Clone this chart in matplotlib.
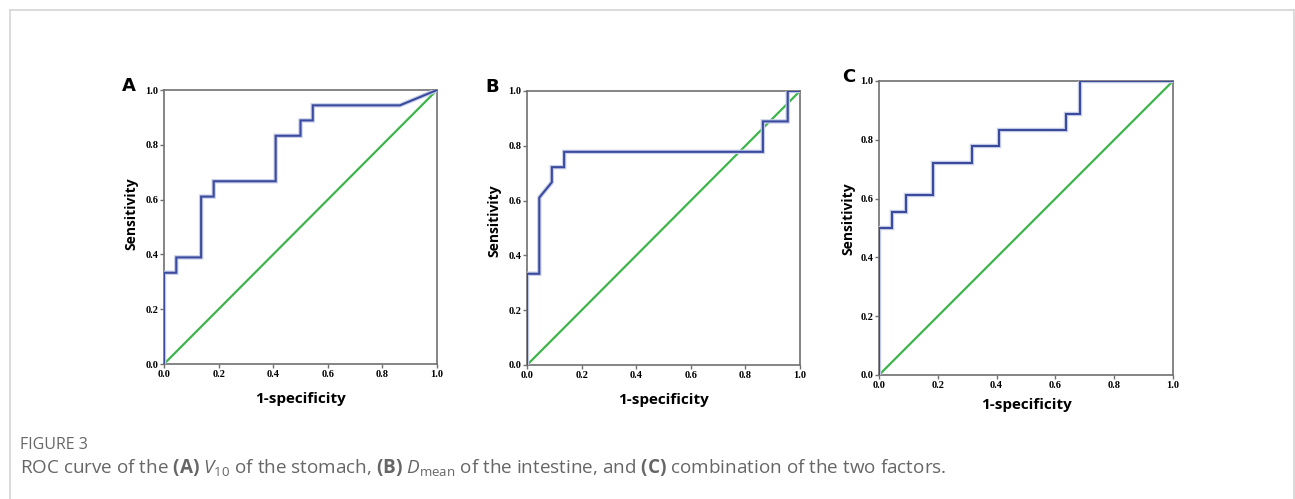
import matplotlib
matplotlib.use("Agg")
import matplotlib.pyplot as plt
from matplotlib.lines import Line2D

# ROC curves: 1-specificity (x) and sensitivity (y)
fpr_a = [0, 0, 0.045, 0.045, 0.136, 0.136, 0.182, 0.182, 0.409, 0.409, 0.5, 0.5, 0.545, 0.545, 0.864, 1.0]
tpr_a = [0, 0.333, 0.333, 0.389, 0.389, 0.611, 0.611, 0.667, 0.667, 0.833, 0.833, 0.889, 0.889, 0.944, 0.944, 1.0]

fpr_b = [0, 0, 0.045, 0.045, 0.091, 0.091, 0.136, 0.136, 0.864, 0.864, 0.955, 0.955, 1.0]
tpr_b = [0, 0.333, 0.333, 0.611, 0.667, 0.722, 0.722, 0.778, 0.778, 0.889, 0.889, 1.0, 1.0]

fpr_c = [0, 0, 0.045, 0.045, 0.091, 0.091, 0.182, 0.182, 0.318, 0.318, 0.409, 0.409, 0.636, 0.636, 0.682, 0.682, 1.0]
tpr_c = [0, 0.5, 0.5, 0.556, 0.556, 0.611, 0.611, 0.722, 0.722, 0.778, 0.778, 0.833, 0.833, 0.889, 0.889, 1.0, 1.0]

ticks = [0.0, 0.2, 0.4, 0.6, 0.8, 1.0]
tick_labels = ["0.0", "0.2", "0.4", "0.6", "0.8", "1.0"]

W, H = 1295, 499
fig = plt.figure(figsize=(W / 100, H / 100), dpi=100)

plt.rcParams['mathtext.fontset'] = 'custom'
plt.rcParams['mathtext.rm'] = 'Open Sans'
plt.rcParams['mathtext.it'] = 'Open Sans:italic'
plt.rcParams['mathtext.bf'] = 'Open Sans:bold'

# axes boxes in pixels: left, right, top, bottom
boxes = [(164, 437, 90, 364), (527, 800, 91, 365), (879, 1173, 81, 375)]
curves = [(fpr_a, tpr_a), (fpr_b, tpr_b), (fpr_c, tpr_c)]
letters = ["A", "B", "C"]
ylab_pos = [(-0.095, 0.55), (-0.095, 0.525), (-0.08, 0.53)]
xlab_pad = [10, 10, 6]
letter_dx = [42, 42, 37]

spine_col = "#707070"
for (l, r, t, b), (fx, ty), letter, yp, xp, dx in zip(boxes, curves, letters, ylab_pos, xlab_pad, letter_dx):
    ax = fig.add_axes([l / W, 1 - b / H, (r - l) / W, (b - t) / H])
    ax.plot([0, 1], [0, 1], color="#3db54a", lw=1.6, zorder=2)
    ax.plot(fx, ty, color="#c9cfe8", lw=3.2, zorder=3, solid_joinstyle="miter")
    ax.plot(fx, ty, color="#3a4b9f", lw=1.5, zorder=4, solid_joinstyle="miter")
    ax.set_xlim(0, 1)
    ax.set_ylim(0, 1)
    ax.set_xticks(ticks)
    ax.set_yticks(ticks)
    ax.set_xticklabels(tick_labels, fontfamily="Liberation Serif", fontweight="bold", fontsize=7.5)
    ax.set_yticklabels(tick_labels, fontfamily="Liberation Serif", fontweight="bold", fontsize=7.5)
    ax.tick_params(direction="out", length=3, width=1, color=spine_col, pad=1)
    for s in ax.spines.values():
        s.set_color(spine_col)
        s.set_linewidth(1.2)
    ax.set_xlabel("1-specificity", fontfamily="Open Sans", fontweight="bold", fontsize=11, labelpad=xp)
    ax.set_ylabel("Sensitivity", fontfamily="Open Sans", fontweight="bold", fontsize=10, labelpad=4)
    ax.yaxis.set_label_coords(yp[0], yp[1])
    fig.text((l - dx) / W, 1 - (t - 4) / H, letter, fontfamily="DejaVu Sans", fontweight="bold",
             fontsize=13, ha="left", va="center")

# thin frame around the figure (open at bottom)
fc = "#d4d4d4"
fig.add_artist(Line2D([10 / W, 10 / W], [0, 1 - 10 / H], color=fc, lw=1.2))
fig.add_artist(Line2D([10 / W, 1294 / W], [1 - 10 / H, 1 - 10 / H], color=fc, lw=1.2))
fig.add_artist(Line2D([1294 / W, 1294 / W], [0, 1 - 10 / H], color=fc, lw=1.2))

fig.text(20 / W, 1 - 445 / H, "FIGURE 3", fontfamily="Open Sans", fontsize=11.5,
         color="#666666", va="center", ha="left")
caption = (r"ROC curve of the $\mathbf{(A)}$ $\mathit{V}_{\mathrm{10}}$ of the stomach, "
           r"$\mathbf{(B)}$ $\mathit{D}_{\mathrm{mean}}$ of the intestine, and $\mathbf{(C)}$ "
           r"combination of the two factors.")
fig.text(20 / W, 1 - 467 / H, caption, fontfamily="Open Sans", fontsize=13.6,
         color="#666666", va="center", ha="left")

fig.savefig("out.png", dpi=100)
